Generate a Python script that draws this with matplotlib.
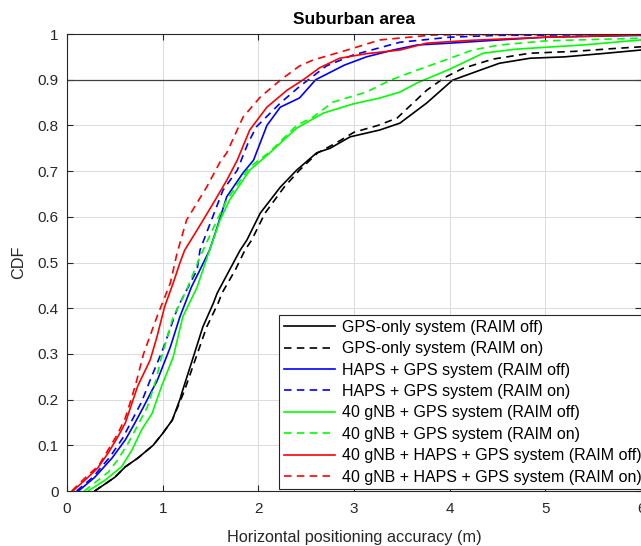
import matplotlib
matplotlib.use("Agg")
import matplotlib.pyplot as plt

plt.rcParams["font.family"] = ["Liberation Sans", "DejaVu Sans"]

# CDF curves (x: horizontal accuracy in m, y: CDF)
gps_off_x = [0.29, 0.50, 0.61, 0.74, 0.90, 1.0, 1.10, 1.18, 1.21, 1.32, 1.42, 1.53, 1.57, 1.70, 1.81, 1.88,
             2.02, 2.23, 2.40, 2.61, 2.75, 2.96, 3.27, 3.48, 3.76, 4.03, 4.32, 4.52, 4.84, 5.20, 5.64, 6.0]
gps_off_y = [0, 0.03, 0.053, 0.072, 0.10, 0.126, 0.155, 0.20, 0.221, 0.293, 0.359, 0.411, 0.433, 0.484, 0.527, 0.549,
             0.608, 0.665, 0.702, 0.74, 0.75, 0.775, 0.79, 0.805, 0.849, 0.899, 0.921, 0.936, 0.947, 0.950, 0.958, 0.965]

gps_on_x = [0.29, 0.50, 0.61, 0.74, 0.90, 1.0, 1.10, 1.19, 1.23, 1.35, 1.46, 1.58, 1.62, 1.76, 1.86, 1.93,
            2.07, 2.27, 2.43, 2.62, 2.80, 3.00, 3.25, 3.45, 3.76, 3.95, 4.14, 4.45, 4.84, 5.3, 5.7, 6.0]
gps_on_y = [0, 0.03, 0.053, 0.072, 0.10, 0.126, 0.155, 0.20, 0.221, 0.293, 0.359, 0.411, 0.433, 0.484, 0.527, 0.549,
            0.608, 0.665, 0.702, 0.74, 0.76, 0.785, 0.80, 0.816, 0.877, 0.905, 0.925, 0.945, 0.958, 0.962, 0.968, 0.972]

haps_off_x = [0.12, 0.29, 0.47, 0.61, 0.71, 0.80, 0.89, 0.94, 1.08, 1.18, 1.30, 1.39, 1.49, 1.56, 1.67, 1.84,
              1.95, 2.09, 2.23, 2.43, 2.60, 2.90, 3.13, 3.41, 3.66, 4.0, 4.52, 5.0, 6.0]
haps_off_y = [0, 0.03, 0.072, 0.112, 0.149, 0.184, 0.221, 0.240, 0.315, 0.381, 0.446, 0.484, 0.527, 0.571, 0.644, 0.696,
              0.724, 0.80, 0.84, 0.86, 0.90, 0.932, 0.95, 0.965, 0.976, 0.98, 0.987, 0.993, 0.997]

haps_on_x = [0.10, 0.27, 0.45, 0.58, 0.68, 0.78, 0.87, 1.0, 1.16, 1.36, 1.39, 1.47, 1.63, 1.78, 1.89,
             1.98, 2.23, 2.43, 2.71, 2.99, 3.27, 3.48, 4.0, 4.5, 6.0]
haps_on_y = [0, 0.03, 0.075, 0.115, 0.155, 0.195, 0.243, 0.309, 0.403, 0.484, 0.527, 0.571, 0.658, 0.702, 0.76,
             0.797, 0.849, 0.885, 0.93, 0.954, 0.97, 0.982, 0.993, 0.997, 0.999]

gnb_off_x = [0.22, 0.40, 0.57, 0.68, 0.78, 0.89, 0.99, 1.11, 1.21, 1.36, 1.49, 1.60, 1.70,
             1.91, 2.12, 2.40, 2.68, 2.99, 3.27, 3.48, 3.66, 4.0, 4.35, 4.7, 5.39, 6.0]
gnb_off_y = [0, 0.024, 0.053, 0.09, 0.134, 0.17, 0.23, 0.293, 0.381, 0.446, 0.527, 0.593, 0.637,
             0.702, 0.74, 0.794, 0.827, 0.847, 0.86, 0.873, 0.893, 0.923, 0.958, 0.967, 0.976, 0.987]

gnb_on_x = [0.18, 0.43, 0.53, 0.64, 0.73, 0.84, 0.93, 0.98, 1.11, 1.25, 1.39, 1.52, 1.67, 1.91, 2.12,
            2.40, 2.57, 2.78, 3.13, 3.38, 3.58, 3.9, 4.24, 4.52, 5.0, 6.0]
gnb_on_y = [0, 0.041, 0.068, 0.105, 0.14, 0.184, 0.243, 0.287, 0.381, 0.44, 0.512, 0.571, 0.637, 0.709, 0.742,
            0.80, 0.818, 0.851, 0.873, 0.899, 0.915, 0.939, 0.965, 0.976, 0.985, 0.991]

all_off_x = [0.06, 0.22, 0.32, 0.43, 0.53, 0.61, 0.68, 0.74, 0.87, 0.94, 1.02, 1.11, 1.18, 1.23, 1.36,
             1.53, 1.67, 1.78, 1.91, 2.09, 2.30, 2.47, 2.64, 2.85, 3.13, 3.48, 3.76, 4.2, 5.0, 6.0]
all_off_y = [0, 0.03, 0.05, 0.083, 0.118, 0.149, 0.193, 0.23, 0.287, 0.337, 0.403, 0.455, 0.499, 0.527, 0.571,
             0.63, 0.68, 0.724, 0.79, 0.84, 0.877, 0.90, 0.926, 0.947, 0.957, 0.965, 0.98, 0.986, 0.993, 0.998]

all_on_x = [0.05, 0.22, 0.33, 0.43, 0.53, 0.61, 0.67, 0.72, 0.80, 0.94, 1.08, 1.15, 1.25, 1.46, 1.60, 1.67,
            1.84, 2.02, 2.23, 2.43, 2.57, 2.93, 3.27, 3.83, 6.0]
all_on_y = [0, 0.035, 0.055, 0.09, 0.125, 0.16, 0.20, 0.235, 0.30, 0.381, 0.455, 0.52, 0.593, 0.665, 0.72, 0.74,
            0.818, 0.862, 0.899, 0.93, 0.943, 0.965, 0.987, 0.998, 1.0]

labels = [
    "GPS-only system (RAIM off)",
    "GPS-only system (RAIM on)",
    "HAPS + GPS system (RAIM off)",
    "HAPS + GPS system (RAIM on)",
    "40 gNB + GPS system (RAIM off)",
    "40 gNB + GPS system (RAIM on)",
    "40 gNB + HAPS + GPS system (RAIM off)",
    "40 gNB + HAPS + GPS system (RAIM on)",
]

series = [
    (gps_off_x, gps_off_y, "k", "-"),
    (gps_on_x, gps_on_y, "k", "--"),
    (haps_off_x, haps_off_y, "#0000ff", "-"),
    (haps_on_x, haps_on_y, "#0000ff", "--"),
    (gnb_off_x, gnb_off_y, "#00ff00", "-"),
    (gnb_on_x, gnb_on_y, "#00ff00", "--"),
    (all_off_x, all_off_y, "#ff0000", "-"),
    (all_on_x, all_on_y, "#ff0000", "--"),
]

fig = plt.figure(figsize=(6.41, 5.46), dpi=100)
ax = fig.add_axes([0.1045, 0.1007, 0.8955, 0.837])

for (x, y, c, ls), lab in zip(series, labels):
    style = "-" if ls == "-" else (0, (4.5, 3.2))
    ax.plot(x, y, color=c, linestyle=style, linewidth=1.2, label=lab)

ax.axhline(0.9, color="#404040", linewidth=0.9)

ax.set_xlim(0, 6)
ax.set_ylim(0, 1)
ax.set_xticks(range(7))
ax.set_yticks([i / 10 for i in range(11)])
ax.set_yticklabels(["0"] + [f"{i / 10:.1f}" for i in range(1, 10)] + ["1"])
ax.grid(True, color="#dcdcdc", linewidth=0.7)
ax.set_axisbelow(True)
ax.tick_params(direction="in", top=True, right=True, labelsize=11, colors="#262626", length=4)
ax.tick_params(axis="x", pad=8)
ax.tick_params(axis="y", pad=6)
for s in ax.spines.values():
    s.set_color("#262626")
    s.set_linewidth(0.8)

ax.set_xlabel("Horizontal positioning accuracy (m)", fontsize=11.7, color="#262626", labelpad=10)
ax.set_ylabel("CDF", fontsize=11.7, color="#262626")
ax.yaxis.set_label_coords(-0.072, 0.5)
ax.set_title("Suburban area", fontsize=12.5, fontweight="bold", pad=7)

leg = ax.legend(loc="lower right", bbox_to_anchor=(1.012, 0.0), fontsize=11.5, handlelength=3.2,
                labelspacing=0.4, borderaxespad=0.1, borderpad=0.3, handletextpad=0.4,
                fancybox=False, framealpha=1)
leg.get_frame().set_edgecolor("#262626")
leg.get_frame().set_linewidth(0.8)

fig.savefig("out.png", dpi=100)
